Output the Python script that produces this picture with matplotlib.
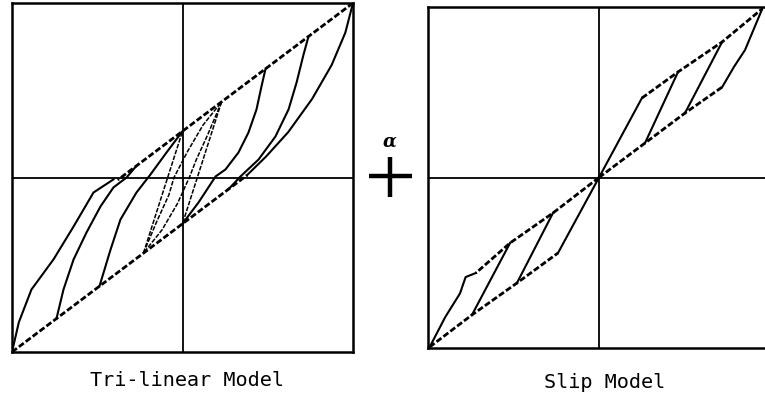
import numpy as np
import matplotlib.pyplot as plt
from matplotlib.lines import Line2D

# ---- Tri-linear model (normalised displacement, force) ----
tri_env_upper_x = [1.0, -0.38]
tri_env_upper_y = [1.0, -0.014]
tri_env_lower_x = [-1.0, 0.38]
tri_env_lower_y = [-1.0, 0.014]

# unloading branches starting on the upper envelope
tri_down_1_x = [1.0, 0.955, 0.875, 0.76, 0.62, 0.49, 0.38]
tri_down_1_y = [1.0, 0.83, 0.645, 0.45, 0.26, 0.12, 0.015]
tri_down_2_x = [0.739, 0.71, 0.669, 0.622, 0.545, 0.446, 0.34, 0.27]
tri_down_2_y = [0.808, 0.705, 0.544, 0.39, 0.235, 0.103, 0.006, -0.067]
tri_down_3_x = [0.487, 0.463, 0.434, 0.387, 0.328, 0.252, 0.194, 0.094, 0.0]
tri_down_3_y = [0.623, 0.521, 0.39, 0.258, 0.143, 0.046, 0.006, -0.143, -0.265]
tri_down_4_x = [0.229, 0.15, 0.08, 0.04, -0.03, -0.12, -0.229]
tri_down_4_y = [0.433, 0.25, 0.1, 0.0, -0.15, -0.3, -0.433]
tri_down_5_x = [0.229, 0.0]
tri_down_5_y = [0.433, -0.265]

# reloading branches starting on the lower envelope
tri_up_1_x = [-1.0, -0.96, -0.886, -0.757, -0.639, -0.522, -0.405]
tri_up_1_y = [-1.0, -0.83, -0.642, -0.47, -0.281, -0.086, -0.011]
tri_up_2_x = [-0.739, -0.698, -0.639, -0.563, -0.481, -0.405, -0.328, -0.27]
tri_up_2_y = [-0.808, -0.642, -0.47, -0.315, -0.166, -0.057, 0.0, 0.067]
tri_up_3_x = [-0.487, -0.422, -0.364, -0.27, -0.188, -0.094, 0.0]
tri_up_3_y = [-0.623, -0.413, -0.241, -0.086, 0.017, 0.143, 0.265]
tri_up_4_x = [-0.229, -0.15, -0.08, -0.05, 0.03, 0.12, 0.229]
tri_up_4_y = [-0.433, -0.25, -0.1, 0.0, 0.15, 0.3, 0.433]
tri_up_5_x = [-0.229, 0.0]
tri_up_5_y = [-0.433, 0.265]

# ---- Slip model ----
slip_pos_hi_x = [0.251, 0.462, 0.72, 0.955]
slip_pos_hi_y = [0.466, 0.619, 0.795, 0.99]
slip_pos_lo_x = [0.0, 0.269, 0.503, 0.72]
slip_pos_lo_y = [0.0, 0.202, 0.378, 0.53]
slip_pos_outer_x = [0.72, 0.79, 0.854, 0.955]
slip_pos_outer_y = [0.53, 0.65, 0.748, 0.99]
slip_neg_hi_x = [0.0, -0.269, -0.52, -0.72]
slip_neg_hi_y = [0.0, -0.208, -0.384, -0.56]
slip_neg_outer_x = [-0.72, -0.78, -0.813, -0.9, -0.99]
slip_neg_outer_y = [-0.56, -0.584, -0.68, -0.82, -0.994]
slip_neg_lo_x = [-0.99, -0.743, -0.48, -0.24]
slip_neg_lo_y = [-0.994, -0.806, -0.619, -0.443]
# parallel slip / unloading segments
slip_steep = [
    ([0.0, 0.251], [0.0, 0.466]),
    ([0.269, 0.462], [0.202, 0.619]),
    ([0.503, 0.72], [0.378, 0.795]),
    ([-0.24, 0.0], [-0.443, 0.0]),
    ([-0.269, -0.48], [-0.208, -0.619]),
    ([-0.52, -0.743], [-0.384, -0.806]),
]

titles = ['Tri-linear Model', 'Slip Model']

dotted = dict(color='black', lw=2.0, ls=(0, (2.2, 0.9)))
solid = dict(color='black', lw=1.5)

fig = plt.figure(figsize=(7.65, 3.99), dpi=100)
ax1 = fig.add_axes([12 / 765, 47 / 399, 341 / 765, 349 / 399])
ax2 = fig.add_axes([428 / 765, 51 / 399, 342 / 765, 341 / 399])

for ax in (ax1, ax2):
    ax.set_xlim(-1, 1)
    ax.set_ylim(-1, 1)
    ax.set_xticks([])
    ax.set_yticks([])
    for s in ax.spines.values():
        s.set_linewidth(1.8)
    ax.axhline(0, color='black', lw=1.3)
    ax.axvline(0, color='black', lw=1.3)

# tri-linear panel
ax1.plot(tri_env_upper_x, tri_env_upper_y, **dotted)
ax1.plot(tri_env_lower_x, tri_env_lower_y, **dotted)
for xs, ys in [(tri_down_1_x, tri_down_1_y), (tri_down_2_x, tri_down_2_y),
               (tri_down_3_x, tri_down_3_y), (tri_up_1_x, tri_up_1_y),
               (tri_up_2_x, tri_up_2_y), (tri_up_3_x, tri_up_3_y)]:
    ax1.plot(xs, ys, **solid)
for xs, ys in [(tri_down_4_x, tri_down_4_y), (tri_down_5_x, tri_down_5_y),
               (tri_up_4_x, tri_up_4_y), (tri_up_5_x, tri_up_5_y)]:
    ax1.plot(xs, ys, color='black', lw=1.1, ls=(0, (3, 1)))

# slip panel
ax2.plot(slip_pos_hi_x, slip_pos_hi_y, **dotted)
ax2.plot(slip_pos_lo_x, slip_pos_lo_y, **dotted)
ax2.plot(slip_neg_hi_x, slip_neg_hi_y, **dotted)
ax2.plot(slip_neg_lo_x, slip_neg_lo_y, **dotted)
ax2.plot(slip_pos_outer_x, slip_pos_outer_y, **solid)
ax2.plot(slip_neg_outer_x, slip_neg_outer_y, **solid)
for xs, ys in slip_steep:
    ax2.plot(xs, ys, **solid)

# "+ alpha" between the panels
W, H = 765, 399
fig.add_artist(Line2D([369 / W, 412 / W], [1 - 176 / H, 1 - 176 / H],
                      color='black', lw=3.2, solid_capstyle='butt'))
fig.add_artist(Line2D([390 / W, 390 / W], [1 - 157 / H, 1 - 197 / H],
                      color='black', lw=3.2, solid_capstyle='butt'))
fig.text(390 / W, 1 - 142 / H, 'α', ha='center', va='center',
         fontsize=13, style='italic', family='DejaVu Serif', weight='bold')

fig.text(187 / W, 1 - 381 / H, titles[0], ha='center', va='center',
         fontsize=14.5, family='DejaVu Sans Mono')
fig.text(605 / W, 1 - 382 / H, titles[1], ha='center', va='center',
         fontsize=14.5, family='DejaVu Sans Mono')

fig.savefig('out.png', dpi=100)
